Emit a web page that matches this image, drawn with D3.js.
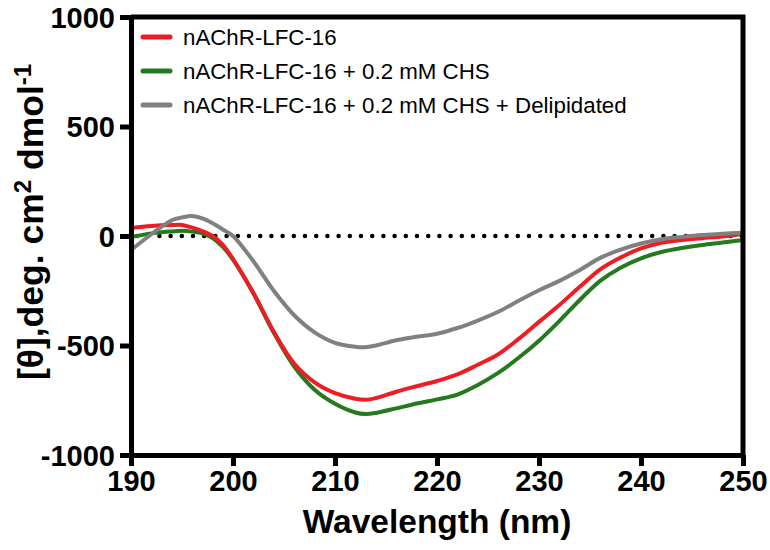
<!DOCTYPE html>
<html>
<head>
<meta charset="utf-8">
<script src="https://cdn.jsdelivr.net/npm/d3@7"></script>
<style>
  html, body { margin: 0; padding: 0; background: #fff; }
  svg { display: block; font-family: "Liberation Sans", Arial, Helvetica, sans-serif; }
</style>
</head>
<body>
<svg id="chart" width="770" height="550"></svg>
<script>
// ---- Data ----
const wavelengths = [190,192,194,195,196,197,198,199,200,202,204,206,208,210,212,213,214,216,218,220,222,224,226,228,230,232,234,236,238,240,242,244,246,248,250];

const seriesNames = [
  "nAChR-LFC-16",
  "nAChR-LFC-16 + 0.2 mM CHS",
  "nAChR-LFC-16 + 0.2 mM CHS + Delipidated"
];
const seriesColors = ["#ee1d23", "#257a1e", "#808080"];

const lfc16 = [37,46,50,50,38,22,0,-40,-105,-260,-437,-582,-668,-717,-743,-748,-740,-711,-686,-662,-632,-588,-540,-470,-392,-315,-232,-152,-98,-57,-31,-18,-10,-2,9];
const lfc16Chs = [-5,12,21,24,20,12,-10,-50,-108,-262,-442,-596,-702,-766,-806,-813,-808,-787,-765,-746,-724,-680,-625,-556,-478,-388,-292,-205,-145,-102,-73,-55,-41,-30,-18];
const lfc16ChsDelip = [-64,8,72,85,91,80,58,30,0,-115,-250,-362,-440,-488,-506,-508,-500,-476,-460,-446,-420,-386,-346,-296,-248,-205,-155,-100,-62,-34,-15,-4,5,10,15];

const xTicks = [190,200,210,220,230,240,250];
const yTicks = [-1000,-500,0,500,1000];

// ---- Layout ----
const svg = d3.select("#chart");
const mLeft = 131, mRight = 743, mTop = 17, mBottom = 455;

const x = d3.scaleLinear().domain([190, 250]).range([mLeft, mRight]);
const y = d3.scaleLinear().domain([-1000, 1000]).range([mBottom, mTop]);

const tickFont = "29px";

// zero dotted line
svg.append("line")
  .attr("x1", x(190) + 6).attr("x2", x(250))
  .attr("y1", y(0)).attr("y2", y(0))
  .attr("stroke", "#000")
  .attr("stroke-width", 4.5)
  .attr("stroke-linecap", "round")
  .attr("stroke-dasharray", "0 11.2");

// curves
const line = d3.line()
  .x(d => x(d[0]))
  .y(d => y(d[1]))
  .curve(d3.curveCatmullRom.alpha(0.5));

const allSeries = [lfc16, lfc16Chs, lfc16ChsDelip];
const drawOrder = [1, 0, 2];
drawOrder.forEach(i => {
  svg.append("path")
    .datum(wavelengths.map((w, k) => [w, allSeries[i][k]]))
    .attr("fill", "none")
    .attr("stroke", seriesColors[i])
    .attr("stroke-width", 4)
    .attr("stroke-linejoin", "round")
    .attr("d", line);
});

// frame top & right
svg.append("path")
  .attr("d", `M${x(190)},${y(1000)}H${x(250)}V${y(-1000)}`)
  .attr("fill", "none")
  .attr("stroke", "#000")
  .attr("stroke-width", 5);

// axes
const fmt = d => String(d);
const xAxis = svg.append("g")
  .attr("transform", `translate(0,${mBottom})`)
  .call(d3.axisBottom(x).tickValues(xTicks).tickFormat(fmt).tickSize(11).tickSizeOuter(0).tickPadding(4));
const yAxis = svg.append("g")
  .attr("transform", `translate(${mLeft},0)`)
  .call(d3.axisLeft(y).tickValues(yTicks).tickFormat(fmt).tickSize(11).tickSizeOuter(0).tickPadding(5));

[xAxis, yAxis].forEach(g => {
  g.select(".domain").attr("stroke", "#000").attr("stroke-width", 5);
  g.selectAll(".tick line").attr("stroke", "#000").attr("stroke-width", 5);
  g.selectAll(".tick text")
    .attr("fill", "#000")
    .style("font-size", tickFont)
    .style("font-weight", "bold")
    .style("font-family", "'Liberation Sans', Arial, sans-serif");
});
yAxis.selectAll(".tick text").attr("dy", "0.36em");

// axis titles
svg.append("text")
  .attr("x", (mLeft + mRight) / 2)
  .attr("y", 533)
  .attr("text-anchor", "middle")
  .style("font-size", "33.5px")
  .style("font-weight", "bold")
  .text("Wavelength (nm)");

const yt = svg.append("text")
  .attr("transform", `translate(43,${(mTop + mBottom) / 2 - 14}) rotate(-90)`)
  .attr("text-anchor", "middle")
  .style("font-size", "35.5px")
  .style("font-weight", "bold");
yt.append("tspan").text("[θ],deg. cm");
yt.append("tspan").attr("dy", -12).style("font-size", "24px").text("2");
yt.append("tspan").attr("dy", 12).text(" dmol");
yt.append("tspan").attr("dy", -12).style("font-size", "24px").text("-1");

// legend
const legendY = [37, 71, 105];
seriesNames.forEach((name, i) => {
  svg.append("line")
    .attr("x1", 143).attr("x2", 170)
    .attr("y1", legendY[i]).attr("y2", legendY[i])
    .attr("stroke", seriesColors[i])
    .attr("stroke-width", 5)
    .attr("stroke-linecap", "round");
  svg.append("text")
    .attr("x", 183)
    .attr("y", legendY[i])
    .attr("dy", "0.35em")
    .style("font-size", "22.3px")
    .text(name);
});
</script>
</body>
</html>
